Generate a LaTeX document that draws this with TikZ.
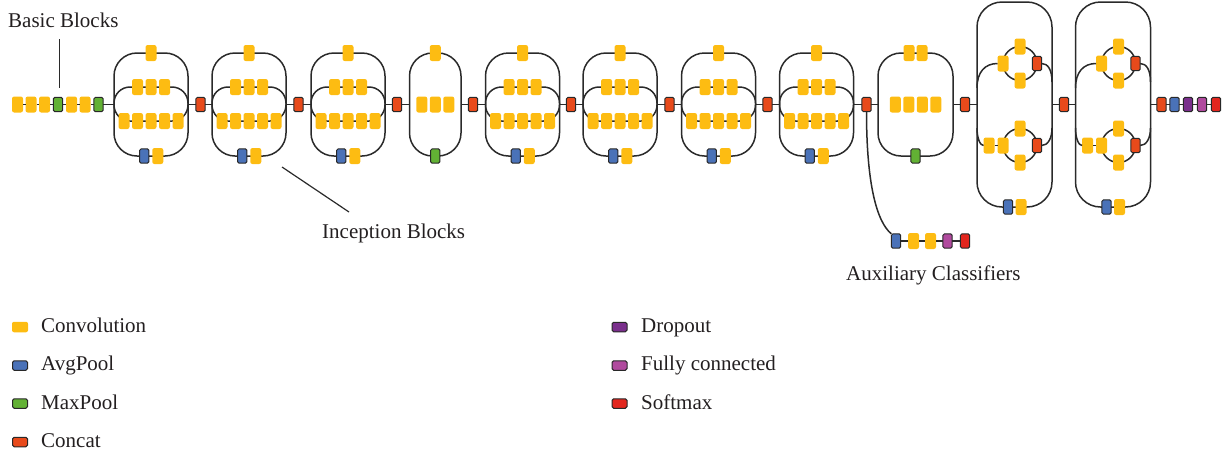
\documentclass[tikz,border=0pt]{standalone}
\usepackage{fontspec}
\setmainfont{Liberation Serif}

\definecolor{convc}{RGB}{253,188,18}
\definecolor{avgc}{RGB}{74,114,184}
\definecolor{maxc}{RGB}{98,177,52}
\definecolor{concatc}{RGB}{232,74,27}
\definecolor{dropc}{RGB}{122,47,140}
\definecolor{fcc}{RGB}{176,74,158}
\definecolor{softc}{RGB}{226,38,30}
\definecolor{linec}{RGB}{42,42,42}
\definecolor{boxline}{RGB}{40,40,40}
\definecolor{textc}{RGB}{35,31,32}

\tikzset{
  conn/.style={draw=linec, line width=1.5pt},
  pointer/.style={draw=linec, line width=1.2pt},
  convbox/.style={rectangle, rounded corners=2.2pt, fill=convc,
    minimum width=11pt, minimum height=16pt, inner sep=0pt, outer sep=0pt},
  opbox/.style={rectangle, rounded corners=1.6pt, draw=boxline, line width=1pt,
    minimum width=9.4pt, minimum height=14.4pt, inner sep=0pt, outer sep=0pt},
  avg/.style={opbox, fill=avgc},
  maxp/.style={opbox, fill=maxc},
  cat/.style={opbox, fill=concatc},
  drop/.style={opbox, fill=dropc},
  fullc/.style={opbox, fill=fcc},
  soft/.style={opbox, fill=softc},
  lbl/.style={font=\fontsize{21}{25}\selectfont, text=textc, inner sep=0pt},
  keyconv/.style={rectangle, rounded corners=2pt, fill=convc,
    minimum width=16pt, minimum height=10.5pt, inner sep=0pt},
  keybox/.style={rectangle, rounded corners=1.6pt, draw=boxline, line width=1pt,
    minimum width=15pt, minimum height=9.5pt, inner sep=0pt},
}

% Inception module with four branches (width 74)
\newcommand\InceptionA[2]{%
  \begin{scope}[shift={(#2,0)}]
    \draw[conn, rounded corners=23pt] (0,53) rectangle (74,156);
    \draw[conn, rounded corners=16pt] (0,87) rectangle (74,121);
    \node[convbox] (#1-t) at (37,53) {};
    \foreach \i in {1,2,3} \node[convbox] (#1-m\i) at ({37+13.5*(\i-2)},87) {};
    \foreach \i in {1,...,5} \node[convbox] (#1-n\i) at ({37+13.5*(\i-3)},121) {};
    \node[avg] (#1-p) at (30.25,156) {};
    \node[convbox] (#1-q) at (43.75,156) {};
    \coordinate (#1-in) at (0,104.5);
    \coordinate (#1-out) at (74,104.5);
  \end{scope}}

% Inception module with two parallel expanded branches (width 75, tall)
\newcommand\InceptionC[2]{%
  \begin{scope}[shift={(#2,0)}]
    \draw[conn, rounded corners=25pt] (0,2) rectangle (75,207);
    \draw[conn] (43,63.5) circle[radius=17];
    \draw[conn] (43,145.5) circle[radius=17];
    \node[convbox] (#1-ul) at (26,63.5) {};
    \node[convbox] (#1-ut) at (43,46.5) {};
    \node[convbox] (#1-ub) at (43,80.5) {};
    \node[cat] (#1-ur) at (60,63.5) {};
    \node[convbox] (#1-la) at (12,145.5) {};
    \node[convbox] (#1-lb) at (26,145.5) {};
    \node[convbox] (#1-lt) at (43,128.5) {};
    \node[convbox] (#1-lo) at (43,162.5) {};
    \node[cat] (#1-lr) at (60,145.5) {};
    \node[avg] (#1-p) at (31,207) {};
    \node[convbox] (#1-q) at (44,207) {};
    \coordinate (#1-in) at (0,104.5);
    \coordinate (#1-out) at (75,104.5);
    \coordinate (#1-a) at (0,88);
    \coordinate (#1-b) at (75,82);
    \coordinate (#1-c) at (0,128);
    \coordinate (#1-d) at (75,128);
    \draw[conn] (#1-a) .. controls (0,72) and (8,63.5) .. (#1-ul.west);
    \draw[conn] (#1-ur.east) .. controls (71,63.5) and (75,70) .. (#1-b);
    \draw[conn] (#1-c) .. controls (0,138) and (3,145.5) .. (#1-la.west);
    \draw[conn] (#1-lr.east) .. controls (71,145.5) and (75,138) .. (#1-d);
    \draw[conn] (#1-la) -- (#1-lb);
  \end{scope}}

\begin{document}
\begin{tikzpicture}[x=1pt, y=-1pt]
\useasboundingbox (0,0) rectangle (1230,456);

% stem
\node[convbox] (b1) at (17.5,104.5) {};
\node[convbox] (b2) at (31,104.5) {};
\node[convbox] (b3) at (44.5,104.5) {};
\node[maxp]    (b4) at (58,104.5) {};
\node[convbox] (b5) at (71.5,104.5) {};
\node[convbox] (b6) at (85,104.5) {};
\node[maxp]    (b7) at (98.5,104.5) {};
\draw[conn] (b1) -- (b2) -- (b3) -- (b4) -- (b5) -- (b6) -- (b7);

% modules
\InceptionA{IA1}{114}
\InceptionA{IA2}{212}
\InceptionA{IA3}{311}

% grid reduction 1
\begin{scope}[shift={(409.5,0)}]
  \draw[conn, rounded corners=23pt] (0,53) rectangle (51.5,156);
  \node[convbox] (RA-t) at (25.75,53) {};
  \foreach \i in {1,2,3} \node[convbox] (RA-m\i) at ({25.75+13.5*(\i-2)},104.5) {};
  \node[maxp] (RA-p) at (25.75,156) {};
  \coordinate (RA-in) at (0,104.5);
  \coordinate (RA-out) at (51.5,104.5);
\end{scope}

\InceptionA{IB1}{485.5}
\InceptionA{IB2}{583}
\InceptionA{IB3}{681.5}
\InceptionA{IB4}{779.5}

% grid reduction 2
\begin{scope}[shift={(878,0)}]
  \draw[conn, rounded corners=23pt] (0,53) rectangle (75,156);
  \node[convbox] (RB-t1) at (31,53) {};
  \node[convbox] (RB-t2) at (44,53) {};
  \foreach \i in {1,...,4} \node[convbox] (RB-m\i) at ({37.5+13.5*(\i-2.5)},104.5) {};
  \node[maxp] (RB-p) at (37.5,156) {};
  \coordinate (RB-in) at (0,104.5);
  \coordinate (RB-out) at (75,104.5);
\end{scope}

\InceptionC{IC1}{977}
\InceptionC{IC2}{1075.5}

% concatenations between modules
\node[cat] (c1) at (200.5,104.5) {};
\node[cat] (c2) at (298.5,104.5) {};
\node[cat] (c3) at (397,104.5) {};
\node[cat] (c4) at (473,104.5) {};
\node[cat] (c5) at (571,104.5) {};
\node[cat] (c6) at (669.5,104.5) {};
\node[cat] (c7) at (767.5,104.5) {};
\node[cat] (c8) at (866.5,104.5) {};
\node[cat] (c9) at (965,104.5) {};
\node[cat] (c10) at (1064,104.5) {};

% head
\node[cat]   (f1) at (1161.5,104.5) {};
\node[avg]   (f2) at (1174.5,104.5) {};
\node[drop]  (f3) at (1188,104.5) {};
\node[fullc] (f4) at (1202,104.5) {};
\node[soft]  (f5) at (1216,104.5) {};

\draw[conn] (b7) -- (IA1-in);
\draw[conn] (IA1-out) -- (c1) -- (IA2-in);
\draw[conn] (IA2-out) -- (c2) -- (IA3-in);
\draw[conn] (IA3-out) -- (c3) -- (RA-in);
\draw[conn] (RA-out) -- (c4) -- (IB1-in);
\draw[conn] (IB1-out) -- (c5) -- (IB2-in);
\draw[conn] (IB2-out) -- (c6) -- (IB3-in);
\draw[conn] (IB3-out) -- (c7) -- (IB4-in);
\draw[conn] (IB4-out) -- (c8) -- (RB-in);
\draw[conn] (RB-out) -- (c9) -- (IC1-in);
\draw[conn] (IC1-out) -- (c10) -- (IC2-in);
\draw[conn] (IC2-out) -- (f1) -- (f2) -- (f3) -- (f4) -- (f5);

% auxiliary classifier
\node[avg]     (x1) at (896,241) {};
\node[convbox] (x2) at (913.5,241) {};
\node[convbox] (x3) at (930.5,241) {};
\node[fullc]   (x4) at (947.5,241) {};
\node[soft]    (x5) at (965,241) {};
\draw[conn] (x1) -- (x2) -- (x3) -- (x4) -- (x5);
\draw[conn] (c8.south) .. controls (866.5,185) and (877,222) .. (x1.north west);

% annotations
\node[lbl, anchor=base west] (tBasic) at (8,27) {Basic Blocks};
\coordinate (pb1) at (59.5,39);
\coordinate (pb2) at (59.5,88);
\draw[pointer] (pb1) -- (pb2);

\node[lbl, anchor=base west] (tIncep) at (322,238.5) {Inception Blocks};
\coordinate (pi1) at (282,167);
\coordinate (pi2) at (349,212);
\draw[pointer] (pi1) -- (pi2);

\node[lbl, anchor=base west] (tAux) at (846,280.5) {Auxiliary Classifiers};

% key
\node[keyconv]           (k1) at (20,327) {};
\node[keybox, fill=avgc]    (k2) at (20,365.5) {};
\node[keybox, fill=maxc]    (k3) at (20,403.5) {};
\node[keybox, fill=concatc] (k4) at (20,442) {};
\node[keybox, fill=dropc]   (k5) at (619.5,327) {};
\node[keybox, fill=fcc]     (k6) at (619.5,365.5) {};
\node[keybox, fill=softc]   (k7) at (619.5,403.5) {};
\node[lbl, anchor=base west] (l1) at (41,332.3) {Convolution};
\node[lbl, anchor=base west] (l2) at (41,370.7) {AvgPool};
\node[lbl, anchor=base west] (l3) at (41,409.3) {MaxPool};
\node[lbl, anchor=base west] (l4) at (41,447.3) {Concat};
\node[lbl, anchor=base west] (l5) at (641,332.3) {Dropout};
\node[lbl, anchor=base west] (l6) at (641,370.7) {Fully connected};
\node[lbl, anchor=base west] (l7) at (641,409.3) {Softmax};
\end{tikzpicture}
\end{document}
